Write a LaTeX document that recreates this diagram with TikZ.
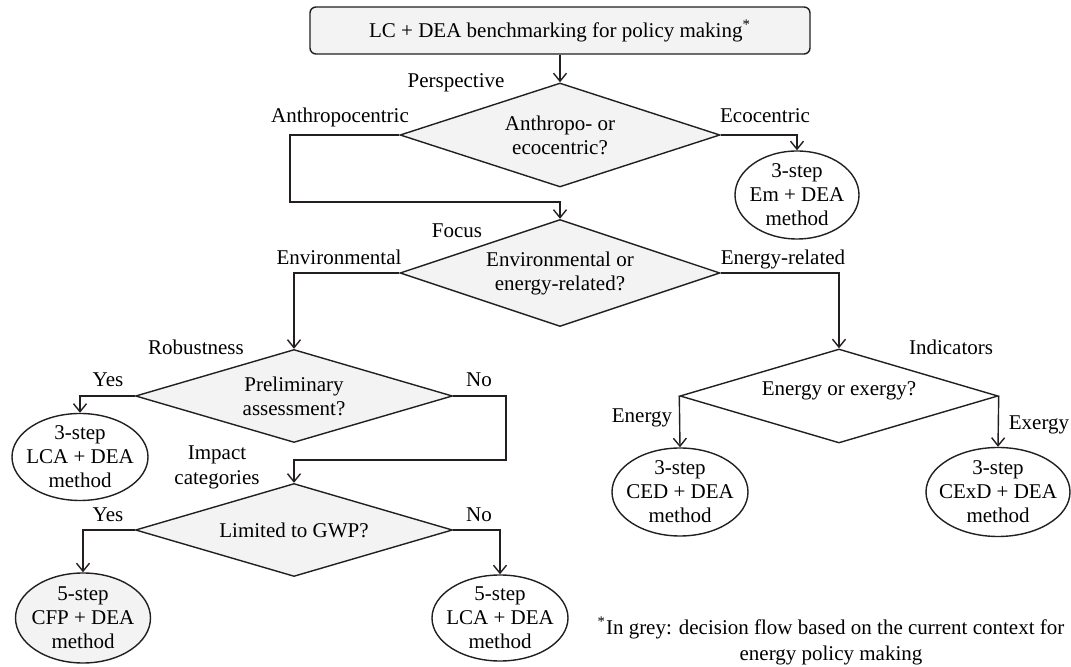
\documentclass[tikz,border=0pt]{standalone}
\usepackage{fontspec}
\setmainfont{Liberation Serif}
\usetikzlibrary{arrows.meta,shapes.geometric}

\definecolor{paleGrey}{HTML}{F2F3F2}
\definecolor{inkLine}{HTML}{231F20}

\begin{document}
\begin{tikzpicture}[x=0.5pt,y=-0.5pt,line width=0.7pt,
  >={Straight Barb[length=4pt,width=6.5pt]},
  font=\fontsize{10.5}{12}\selectfont,
  decision/.style={diamond,draw=inkLine,fill=paleGrey,inner sep=0pt},
  outcome/.style={ellipse,draw=inkLine,inner sep=0pt},
  inside/.style={align=center,inner sep=0pt},
  tag/.style={inner sep=0pt,text height=1.5ex,text depth=.25ex},
  flow/.style={->,draw=inkLine}]
  \useasboundingbox (0,0) rectangle (1071,667);

  % Goal
  \node[draw=inkLine,fill=paleGrey,rounded corners=3pt,minimum width=250pt,minimum height=23.5pt]
    (goal) at (560,30.5) {LC + DEA benchmarking for policy making\textsuperscript{*}};

  % Decisions
  \node[decision,minimum width=160pt,minimum height=52pt,label={[inside]center:{Anthropo- or\\ecocentric?}}]
    (persp) at (560,135) {};
  \node[decision,minimum width=160pt,minimum height=53.5pt,label={[inside]center:{Environmental or\\energy-related?}}]
    (focus) at (560,273) {};
  \node[decision,minimum width=158.5pt,minimum height=46.5pt,label={[inside]center:{Preliminary\\assessment?}}]
    (robust) at (294,396) {};
  \node[decision,minimum width=158.5pt,minimum height=46.5pt,label={[inside]center:{Limited to GWP?}}]
    (impact) at (294,530) {};
  \node[decision,fill=white,minimum width=159pt,minimum height=47pt,label={[inside,yshift=2.5pt]center:{Energy or exergy?}}]
    (indic) at (839,396) {};

  % Methods
  \node[outcome,minimum width=62pt,minimum height=44pt,label={[inside]center:{3-step\\Em + DEA\\method}}]
    (emDea) at (797,195) {};
  \node[outcome,minimum width=68pt,minimum height=43.5pt,label={[inside]center:{3-step\\LCA + DEA\\method}}]
    (lcaThree) at (80,457) {};
  \node[outcome,fill=paleGrey,minimum width=67.5pt,minimum height=45pt,label={[inside]center:{5-step\\CFP + DEA\\method}}]
    (cfpDea) at (83,618) {};
  \node[outcome,minimum width=68pt,minimum height=43pt,label={[inside]center:{5-step\\LCA + DEA\\method}}]
    (lcaFive) at (500,618) {};
  \node[outcome,minimum width=68pt,minimum height=44pt,label={[inside]center:{3-step\\CED + DEA\\method}}]
    (cedDea) at (680,492) {};
  \node[outcome,minimum width=72pt,minimum height=44.5pt,label={[inside]center:{3-step\\CExD + DEA\\method}}]
    (cexdDea) at (998,492) {};

  % Branch labels
  \node[tag] (perspLbl) at (456,82) {Perspective};
  \node[tag] (anthLbl) at (340,117) {Anthropocentric};
  \node[tag] (ecoLbl) at (765,117) {Ecocentric};
  \node[tag] (focusLbl) at (457,232) {Focus};
  \node[tag] (envLbl) at (339,259) {Environmental};
  \node[tag] (enrLbl) at (783,259) {Energy-related};
  \node[tag] (robLbl) at (196,349) {Robustness};
  \node[tag] (yesRob) at (108,381) {Yes};
  \node[tag] (noRob) at (479,381) {No};
  \node[inside,font=\fontsize{10.5}{12.5}\selectfont] (impLbl) at (217,467) {Impact\\categories};
  \node[tag] (yesImp) at (108,516) {Yes};
  \node[tag] (noImp) at (479,516) {No};
  \node[tag] (indLbl) at (951,349) {Indicators};
  \node[tag] (enLbl) at (642,417) {Energy};
  \node[tag] (exLbl) at (1039,424) {Exergy};

  % Footnote
  \node[inside,font=\fontsize{10.5}{13}\selectfont] (note) at (831,641)
    {\textsuperscript{*}In grey: decision flow based on the current context for\\energy policy making};

  % Joints
  \coordinate (anthJoint) at (290,202);
  \coordinate (noJoint) at (506,460);

  % Connectors
  \draw[flow] (goal) -- (persp.north);
  \draw[flow] (persp.west) -| (anthJoint) -| (focus.north);
  \draw[flow] (persp.east) -| (emDea.north);
  \draw[flow] (focus.west) -| (robust.north);
  \draw[flow] (focus.east) -| (indic.north);
  \draw[flow] (robust.west) -| (lcaThree.north);
  \draw[flow] (robust.east) -| (noJoint) -| (impact.north);
  \draw[flow] (impact.west) -| (cfpDea.north);
  \draw[flow] (impact.east) -| (lcaFive.north);
  \draw[flow] (indic.west) -- (cedDea.north);
  \draw[flow] (indic.east) -- (cexdDea.north);
\end{tikzpicture}
\end{document}
